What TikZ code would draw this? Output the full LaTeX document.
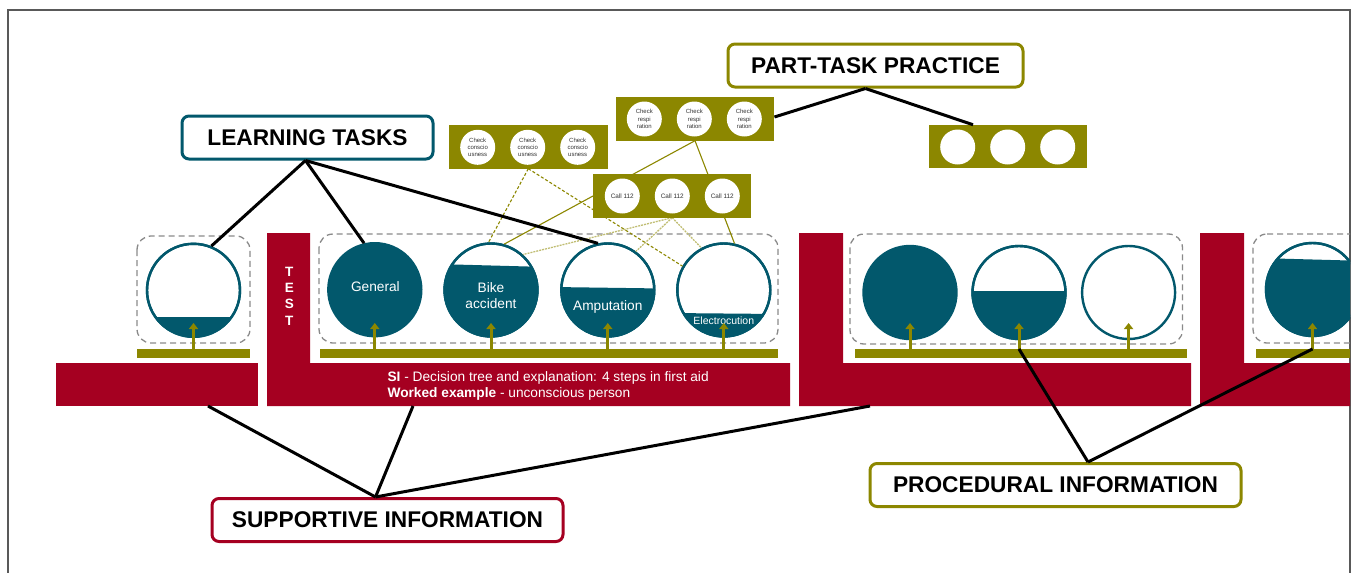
\documentclass[tikz,border=0pt]{standalone}
\usepackage{fontspec}
\setmainfont{Liberation Sans}
\usetikzlibrary{arrows.meta,calc}
\definecolor{fcred}{HTML}{A50021}
\definecolor{fcteal}{HTML}{02586C}
\definecolor{fcolive}{HTML}{8C8700}
\definecolor{fcgray}{HTML}{8A8A8A}
\newcommand\partfill[4]{%
  \begin{scope}
    \clip (#1.center) circle[radius=46.5pt];
    \fill[fcteal] (#2-55,#3) -- (#2+55,#4) -- (#2+55,#3+100) -- (#2-55,#3+100) -- cycle;
  \end{scope}
  \draw[fcteal, line width=2.4pt] (#1.center) circle[radius=46.5pt];}
\begin{document}
\begin{tikzpicture}[x=1pt,y=-1pt,
  redblk/.style={fill=fcred},
  olbar/.style={fill=fcolive},
  grp/.style={draw=fcgray, dash pattern=on 6pt off 4pt, line width=1.3pt, rounded corners=14pt},
  task/.style={circle, draw=fcteal, line width=2.4pt, fill=white, minimum size=93pt, inner sep=0pt},
  tasktxt/.style={text=white, font=\fontsize{13.7}{16}\selectfont, align=center, inner sep=0pt},
  uparrow/.style={draw=fcolive, line width=3pt, -{Triangle[width=9pt,length=6pt]}},
  ptbox/.style={fill=fcolive, minimum width=158.5pt, minimum height=43.5pt, inner sep=0pt},
  ptc/.style={circle, fill=white, minimum size=35pt, inner sep=0pt, font=\fontsize{6}{7.2}\selectfont, text=black!80, align=center},
  headbox/.style={draw, line width=3pt, rounded corners=7pt, fill=white, minimum height=43pt, inner sep=0pt, font=\bfseries\fontsize{22.7}{26}\selectfont},
  conn/.style={line width=3pt, black},
  plink/.style={draw=fcolive, line width=1.1pt},
  plinkdash/.style={draw=fcolive, line width=1.1pt, dash pattern=on 3pt off 2pt},
  plinklight/.style={draw=fcolive!55, line width=1.3pt, dash pattern=on 2pt off 1pt}
]
\useasboundingbox (0,0) rectangle (1353,573);
% frame
\draw[black!65, line width=1.3pt] (8,573) -- (8,10) -- (1350,10) -- (1350,573);

% red supportive blocks
\fill[redblk] (56,363) rectangle (258,406);
\fill[redblk] (267,233) -- (310,233) -- (310,363) -- (790,363) -- (790,406) -- (267,406) -- cycle;
\fill[redblk] (799,233) -- (843,233) -- (843,363) -- (1191,363) -- (1191,406) -- (799,406) -- cycle;
\begin{scope}
  \clip (0,0) rectangle (1350,573);
  \fill[redblk] (1200,233) -- (1244,233) -- (1244,363) -- (1360,363) -- (1360,406) -- (1200,406) -- cycle;
  \fill[olbar] (1256,349) rectangle (1360,357.5);
  \draw[grp] (1253,234) -- (1370,234) -- (1370,343) -- (1253,343) -- cycle;
\end{scope}
\node[text=white, font=\bfseries\fontsize{13.5}{16.3}\selectfont, align=center, inner sep=0pt] (test) at (289.3,296) {T\\E\\S\\T};

% procedural bars
\fill[olbar] (137,349) rectangle (250,357.5);
\fill[olbar] (320,349) rectangle (777.5,357.5);
\fill[olbar] (855,349) rectangle (1187,357.5);

% dashed groups
\draw[grp] (137,236) rectangle (250,343);
\draw[grp] (319,234) rectangle (778,343);
\draw[grp] (850,234) rectangle (1182.5,344);

% task circles
\node[task] (c0) at (193.5,290.3) {};
\partfill{c0}{193.5}{317}{317}
\node[task, fill=fcteal] (gen) at (374.8,289.7) {};
\node[task] (bike) at (491,290) {};
\partfill{bike}{491}{264}{267}
\node[task] (amp) at (607.8,290) {};
\partfill{amp}{607.8}{287}{288.5}
\node[task] (elec) at (723.8,290) {};
\partfill{elec}{723.8}{313}{314}
\node[task, fill=fcteal] (c1) at (910,292.5) {};
\node[task] (c2) at (1019,292.5) {};
\partfill{c2}{1019}{291}{291}
\node[task] (c3) at (1128.6,292.5) {};
\begin{scope}
  \clip (0,0) rectangle (1350,573);
  \node[task] (c4) at (1312.5,289.5) {};
  \partfill{c4}{1312.5}{258}{261}
\end{scope}

\node[tasktxt] (tgen) at (375.4,286.7) {General};
\node[tasktxt] (tbike) at (491,296) {Bike\\accident};
\node[tasktxt] (tamp) at (607.8,306.7) {Amputation};
\node[tasktxt, font=\fontsize{10.5}{12}\selectfont] (telec) at (723.8,320.7) {Electrocution};

% small arrows
\foreach \n in {c0,gen,bike,amp,elec,c1,c2,c3,c4}
  \draw[uparrow] (\n.center |- 0,349) -- (\n.center |- 0,323);

% SI text
\node[anchor=west, text=white, align=left, inner sep=0pt, font=\fontsize{13.7}{16}\selectfont] (sitxt) at (387.4,386)
  {\textbf{SI} - Decision tree and explanation: 4 steps in first aid\\\textbf{Worked example} - unconscious person};

% part-task links
\coordinate (boxAs) at (528.3,168.7);
\coordinate (boxBs) at (695,140.7);
\coordinate (boxCs) at (672.2,217.7);
\draw[plinkdash] (boxAs) -- (bike.93);
\draw[plinkdash] (boxAs) -- (elec.150);
\draw[plink] (boxBs) -- (bike.74);
\draw[plink] (boxBs) -- (elec.77);
\draw[plinklight] (boxCs) -- (bike.48);
\draw[plinklight] (boxCs) -- (amp.54);
\draw[plinklight] (boxCs) -- (elec.118);

% part-task boxes
\node[ptbox] (boxA) at (528.3,146.9) {};
\node[ptc] (a1) at (477.7,147.3) {Check\\conscio\\usness};
\node[ptc] (a2) at (527.7,147.3) {Check\\conscio\\usness};
\node[ptc] (a3) at (577.7,147.3) {Check\\conscio\\usness};
\node[ptbox] (boxB) at (695,119) {};
\node[ptc] (b1) at (644.3,119) {Check\\respi\\ration};
\node[ptc] (b2) at (694.3,119) {Check\\respi\\ration};
\node[ptc] (b3) at (744.3,119) {Check\\respi\\ration};
\node[ptbox] (boxC) at (672.2,196) {};
\node[ptc, font=\fontsize{6.4}{7.2}\selectfont] (cc1) at (622.3,196) {Call 112};
\node[ptc, font=\fontsize{6.4}{7.2}\selectfont] (cc2) at (672.3,196) {Call 112};
\node[ptc, font=\fontsize{6.4}{7.2}\selectfont] (cc3) at (722.3,196) {Call 112};
\node[ptbox] (boxD) at (1008,146.7) {};
\node[ptc] (d1) at (957.7,147) {};
\node[ptc] (d2) at (1007.7,147) {};
\node[ptc] (d3) at (1057.7,147) {};

% headline boxes
\node[headbox, draw=fcteal, minimum width=251pt] (lt) at (307.5,137.5) {LEARNING TASKS};
\node[headbox, draw=fcolive, minimum width=295pt] (ptp) at (875.5,65.5) {PART-TASK PRACTICE};
\node[headbox, draw=fcred, minimum width=351pt] (si) at (387.5,520) {SUPPORTIVE INFORMATION};
\node[headbox, draw=fcolive, minimum width=371pt] (pi) at (1055.5,485) {PROCEDURAL INFORMATION};

% black connectors
\coordinate (r1) at (208,406);
\coordinate (r2) at (413,406);
\coordinate (r3) at (870,406);
\coordinate (p2) at (1019,349);
\coordinate (p4) at (1312.5,349);
\draw[conn] ([xshift=-2pt]lt.south) -- (c0.68);
\draw[conn] ([xshift=-2pt]lt.south) -- (gen.103.5);
\draw[conn] ([xshift=-2pt]lt.south) -- (amp.102);
\draw[conn] ([xshift=-10pt]ptp.south) -- ([yshift=2pt]boxB.east);
\draw[conn] ([xshift=-10pt]ptp.south) -- ([xshift=-35pt]boxD.north);
\draw[conn] ([xshift=-12pt]si.north) -- (r1);
\draw[conn] ([xshift=-12pt]si.north) -- (r2);
\draw[conn] ([xshift=-12pt]si.north) -- (r3);
\draw[conn] ([xshift=32.5pt]pi.north) -- (p2);
\draw[conn] ([xshift=32.5pt]pi.north) -- (p4);
\end{tikzpicture}
\end{document}
